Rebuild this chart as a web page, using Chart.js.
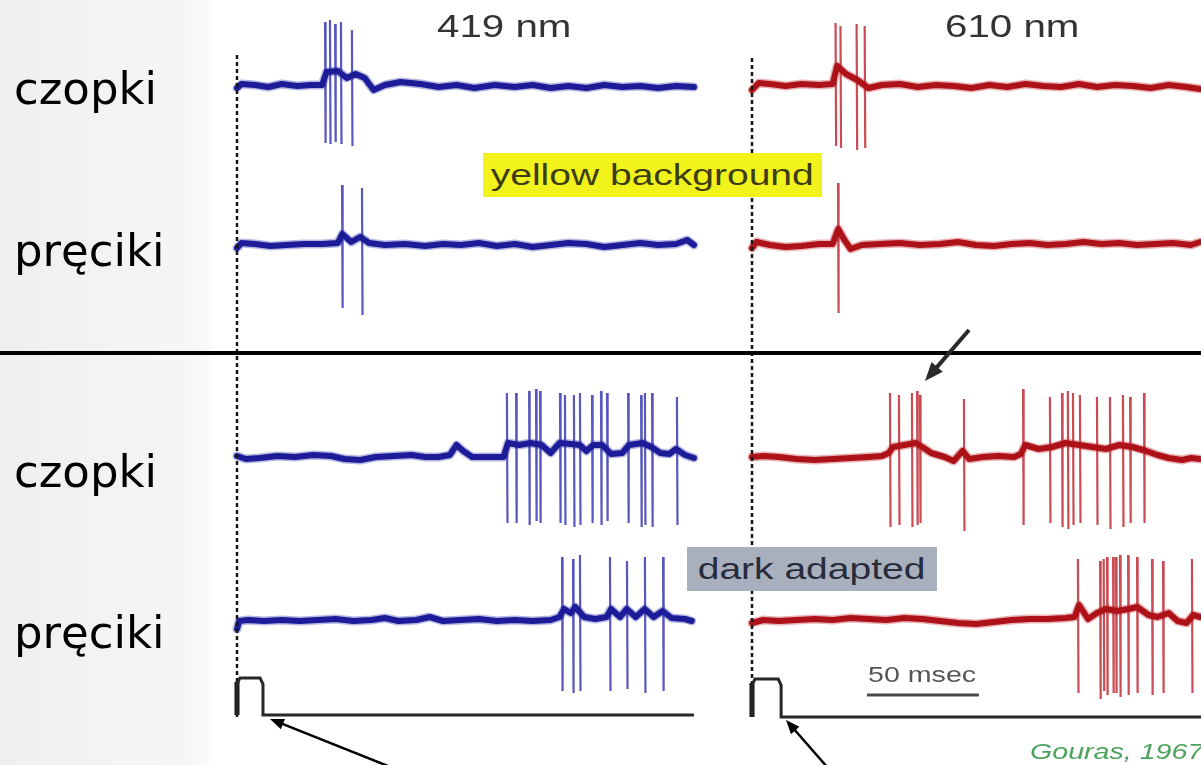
<!DOCTYPE html>
<html>
<head>
<meta charset="utf-8">
<script src="https://cdn.jsdelivr.net/npm/chart.js@4.4.0/dist/chart.umd.min.js"></script>
<style>
  html, body { margin: 0; padding: 0; }
  body {
    width: 1201px; height: 765px; overflow: hidden; position: relative;
    background: linear-gradient(to right, #efefef 0, #f6f6f6 190px, #fbfbfb 208px, #fff 214px);
    font-family: "Liberation Sans", Arial, sans-serif;
  }
  #chart { position: absolute; left: 0; top: 0; }
  .row { position: absolute; left: 14px; font-family: "DejaVu Sans", Verdana, sans-serif;
         font-size: 45px; line-height: 1; color: #000; }
  .fig { position: absolute; line-height: 1; white-space: nowrap;
         transform: scaleX(1.3); transform-origin: 0 0; }
  .tag { position: absolute; white-space: nowrap; text-align: center; }
</style>
</head>
<body>
<canvas id="chart" width="1201" height="765"></canvas>
<div id="labels"></div>
<script>
// ---- data (time in ms from stimulus onset, amplitudes in trace units) ----
const rowNames = ['czopki', 'pręciki', 'czopki', 'pręciki'];
const wavelengths = ['419 nm', '610 nm'];
const conditions = ['yellow background', 'dark adapted'];
const scaleBarMs = 50;
const source = 'Gouras, 1967';

// baseline of each trace: [t, deflection]
const blueConeYellow = [[0,-2],[2,2],[8,1],[14,-1],[20,2],[27,0],[33,1],[38,1],[40,14],[45,15],[49,8],[53,12],[57,8],[61,-4],[66,1],[73,4],[82,2],[90,-1],[98,1],[106,-2],[115,1],[124,-1],[132,1],[140,-2],[148,0],[156,-2],[164,1],[172,-1],[180,0],[188,-2],[196,0],[204,-1]];
const redConeYellow = [[0,-4],[3,3],[8,2],[15,0],[22,2],[30,1],[36,2],[38,20],[42,12],[47,6],[52,-2],[58,1],[66,2],[74,-1],[82,1],[90,0],[98,-2],[106,1],[114,-1],[122,2],[130,0],[138,-1],[146,2],[154,-1],[162,1],[170,0],[178,-2],[186,1],[194,-1],[200,-3]];
const blueRodYellow = [[0,-3],[2,2],[8,1],[15,-1],[22,0],[30,1],[38,1],[45,2],[47,11],[51,3],[55,8],[59,2],[66,0],[75,1],[84,-1],[92,1],[100,0],[108,2],[116,-1],[124,1],[132,-2],[140,0],[148,2],[156,1],[164,-2],[172,0],[180,2],[188,0],[196,1],[201,5],[204,0]];
const redRodYellow = [[0,-3],[2,3],[8,0],[15,-2],[22,-1],[30,1],[36,1],[38.5,16],[41,6],[44,-4],[49,0],[57,1],[66,2],[75,0],[84,1],[92,3],[100,0],[108,-1],[116,1],[124,2],[132,0],[140,1],[148,3],[156,1],[164,2],[172,0],[180,1],[188,2],[196,0],[200,3]];
const blueConeDark = [[0,1],[4,-2],[10,-1],[18,1],[26,0],[34,2],[42,1],[48,-2],[55,-3],[62,0],[70,1],[78,2],[84,0],[90,0],[95,2],[98,12],[101,6],[105,0],[112,0],[119,0],[121,14],[126,12],[131,14],[136,12],[140,4],[144,14],[149,13],[153,12],[156,6],[159,12],[163,12],[167,3],[172,4],[175,12],[181,14],[185,10],[189,4],[193,3],[196,8],[200,2],[204,-1]];
const redConeDark = [[0,0],[5,1],[12,0],[20,-2],[28,-3],[36,-2],[44,-1],[52,0],[58,1],[61,4],[63,10],[68,12],[73,14],[76,10],[80,4],[86,0],[90,-4],[94,6],[97,-2],[103,0],[110,1],[117,0],[120,3],[122,12],[128,8],[134,10],[140,14],[146,12],[152,10],[158,8],[164,12],[170,10],[176,6],[181,2],[186,-1],[192,-3],[196,-1],[200,-2]];
const blueRodDark = [[0,-8],[1,0],[5,1],[12,0],[20,1],[28,0],[36,1],[44,2],[52,0],[60,1],[66,3],[72,0],[80,1],[86,4],[92,0],[100,1],[108,2],[116,0],[124,1],[132,0],[140,1],[144,4],[146,12],[149,8],[151,14],[155,4],[160,2],[165,4],[167,12],[171,4],[174,12],[178,4],[182,12],[186,4],[190,10],[194,3],[200,2],[203,0]];
const redRodDark = [[0,-2],[5,1],[12,0],[20,1],[28,2],[36,1],[44,3],[52,2],[60,1],[68,3],[76,2],[84,0],[92,-2],[100,-3],[108,-1],[116,1],[124,2],[132,2],[140,3],[144,4],[146,16],[150,2],[154,8],[158,12],[163,10],[168,12],[172,14],[177,6],[181,4],[186,8],[190,0],[194,-2],[197,6],[200,4]];

// spikes: [t, peak up, trough down]
const blueConeYellowSpikes = [[39.3,64,57],[41.5,66,58],[43.8,62,56],[46.4,64,58],[51.3,56,60]];
const redConeYellowSpikes = [[37.3,63,60],[39.5,60,62],[46.7,62,64],[50.3,60,62]];
const blueRodYellowSpikes = [[46.9,60,63],[55.8,57,70]];
const redRodYellowSpikes = [[38.4,62,68]];
const blueConeDarkSpikes = [[120.5,64,66],[124.6,64,66],[130.4,66,68],[133.5,68,64],[135.3,66,66],[144.2,64,66],[146.4,62,68],[150.4,62,70],[153.1,64,68],[158.5,62,66],[162.5,66,68],[165.2,64,64],[174.6,64,66],[180.4,62,70],[182.1,64,68],[185.3,64,70],[196.4,60,68]];
const redConeDarkSpikes = [[61.6,64,70],[65.6,62,68],[71.4,64,70],[73.7,66,68],[75,62,66],[94.6,58,74],[121,68,68],[133,60,66],[138.4,64,70],[141,66,72],[143.3,64,68],[146.4,62,66],[154,60,68],[159.8,60,72],[165.6,62,70],[168.8,60,66],[175,64,66]];
const blueRodDarkSpikes = [[145.1,64,70],[150,62,72],[153.1,66,70],[166.5,64,70],[174.1,60,68],[182.1,64,72],[190.2,64,70]];
const redRodDarkSpikes = [[145.5,62,72],[155.4,60,78],[157,62,70],[158.5,64,74],[161.2,64,72],[162.5,64,72],[164.3,66,76],[167.9,66,74],[171.9,64,72],[178.6,62,74],[183.5,60,72],[196.4,62,72]];

// stimulus pulse: duration (ms), height
const stimDuration = [11.6, 13.0];
const stimHeight = [37, 38];
const traceEnd = [204, 200.5];

// ---- layout ----
const W = 1201, H = 765;
const PX_PER_MS = 2.24;
const X0 = [237, 752];             // pixel of t = 0 in each panel
const ROW_Y = [86, 245, 457, 621];  // baseline of each row
const STIM_Y = [715, 717];
const ZERO_LINE = [[55, 718], [58, 686]];
const COLORS = [
  { trace: '#1c1c98', spike: 'rgba(45,45,175,0.8)', halo: 'rgba(50,50,170,0.35)' },
  { trace: '#ae1219', spike: 'rgba(190,30,40,0.8)', halo: 'rgba(190,40,45,0.35)' }
];
const axisIds = ['xb', 'xr'];

const traces = [
  [blueConeYellow, blueConeYellowSpikes, 0, 0],
  [redConeYellow, redConeYellowSpikes, 1, 0],
  [blueRodYellow, blueRodYellowSpikes, 0, 1],
  [redRodYellow, redRodYellowSpikes, 1, 1],
  [blueConeDark, blueConeDarkSpikes, 0, 2],
  [redConeDark, redConeDarkSpikes, 1, 2],
  [blueRodDark, blueRodDarkSpikes, 0, 3],
  [redRodDark, redRodDarkSpikes, 1, 3]
];

const datasets = [];
traces.forEach(([base, spikes, panel, row]) => {
  const y0 = ROW_Y[row];
  const basePts = base.map(([t, v]) => ({ x: t, y: y0 - v }));
  const spikePts = [];
  spikes.forEach(([t, up, down]) => {
    spikePts.push({ x: t, y: y0 - up }, { x: t + 0.25, y: y0 + down }, { x: t, y: null });
  });
  datasets.push({ data: spikePts, xAxisID: axisIds[panel], borderColor: COLORS[panel].spike,
    borderWidth: 2.2, spanGaps: false, order: 3 });
  datasets.push({ data: basePts, xAxisID: axisIds[panel], borderColor: COLORS[panel].halo,
    borderWidth: 9, order: 2, borderJoinStyle: 'round', borderCapStyle: 'round' });
  datasets.push({ data: basePts, xAxisID: axisIds[panel], borderColor: COLORS[panel].trace,
    borderWidth: 6, order: 1, borderJoinStyle: 'round', borderCapStyle: 'round' });
});

// stimulus markers and time-zero lines
[0, 1].forEach(p => {
  const d = stimDuration[p], h = stimHeight[p], y = STIM_Y[p];
  datasets.push({ data: [
      { x: 0, y: y }, { x: 0, y: y - h + 6 }, { x: 1.3, y: y - h }, { x: d - 1.3, y: y - h },
      { x: d, y: y - h + 6 }, { x: d, y: y }, { x: traceEnd[p], y: y }
    ], xAxisID: axisIds[p], borderColor: '#262626', borderWidth: 3, order: 0 });
  datasets.push({ data: [{ x: 0, y: y }, { x: 0, y: y - h + 4 }], xAxisID: axisIds[p],
    borderColor: '#111', borderWidth: 5, order: 0 });
  datasets.push({ data: [{ x: 0, y: ZERO_LINE[p][0] }, { x: 0, y: ZERO_LINE[p][1] }], xAxisID: axisIds[p],
    borderColor: '#151515', borderWidth: 2.5, borderDash: [4, 3], order: 0 });
});

function arrow(ctx, x1, y1, x2, y2, w, head, color) {
  const a = Math.atan2(y2 - y1, x2 - x1);
  ctx.save();
  ctx.strokeStyle = color; ctx.fillStyle = color; ctx.lineWidth = w;
  ctx.beginPath(); ctx.moveTo(x1, y1);
  ctx.lineTo(x2 - Math.cos(a) * head * 0.8, y2 - Math.sin(a) * head * 0.8); ctx.stroke();
  ctx.beginPath(); ctx.moveTo(x2, y2);
  ctx.lineTo(x2 - head * Math.cos(a - 0.38), y2 - head * Math.sin(a - 0.38));
  ctx.lineTo(x2 - head * Math.cos(a + 0.38), y2 - head * Math.sin(a + 0.38));
  ctx.closePath(); ctx.fill();
  ctx.restore();
}

const decor = {
  id: 'decor',
  afterDatasetsDraw(chart) {
    const ctx = chart.ctx;
    ctx.save();
    // separator between conditions
    ctx.strokeStyle = '#000'; ctx.lineWidth = 4;
    ctx.beginPath(); ctx.moveTo(0, 353); ctx.lineTo(W, 353); ctx.stroke();
    // 50 ms scale bar
    const xr = chart.scales.xr;
    ctx.strokeStyle = '#4a4a4a'; ctx.lineWidth = 3;
    ctx.beginPath(); ctx.moveTo(xr.getPixelForValue(51.3), 695);
    ctx.lineTo(xr.getPixelForValue(51.3 + scaleBarMs), 695); ctx.stroke();
    ctx.restore();
    arrow(ctx, 393, 768, 270, 719, 2.5, 15, '#000');
    arrow(ctx, 828, 768, 786, 720, 2.5, 15, '#000');
    arrow(ctx, 969, 330, 925, 381, 4, 20, '#2a2a2a');
  }
};

new Chart(document.getElementById('chart'), {
  type: 'line',
  data: { datasets },
  options: {
    responsive: false,
    animation: false,
    events: [],
    layout: { padding: 0 },
    elements: { point: { radius: 0 }, line: { tension: 0 } },
    plugins: { legend: { display: false }, tooltip: { enabled: false } },
    scales: {
      xb: { type: 'linear', display: false, min: -X0[0] / PX_PER_MS, max: (W - X0[0]) / PX_PER_MS },
      xr: { type: 'linear', display: false, min: -X0[1] / PX_PER_MS, max: (W - X0[1]) / PX_PER_MS },
      y: { type: 'linear', display: false, min: 0, max: H, reverse: true }
    }
  },
  plugins: [decor]
});

// ---- text ----
const labels = document.getElementById('labels');
function add(cls, text, css) {
  const d = document.createElement('div');
  d.className = cls; d.textContent = text; d.style.cssText = css;
  labels.appendChild(d);
}
const rowTop = [66, 228, 449, 610];
rowNames.forEach((n, i) => add('row', n, 'top:' + rowTop[i] + 'px'));
add('fig', wavelengths[0], 'left:437px;top:11px;font-size:31px;color:#333');
add('fig', wavelengths[1], 'left:945px;top:11px;font-size:31px;color:#333');
add('tag', conditions[0], 'left:483px;top:153px;width:339px;height:44px;background:#f3f31c;');
add('tag', conditions[1], 'left:687px;top:547px;width:250px;height:44px;background:#a8b0be;');
add('fig', scaleBarMs + ' msec', 'left:868px;top:664px;font-size:22px;color:#555');
add('fig', source, 'left:1030px;top:741px;font-size:22px;font-style:italic;color:#4ba35c');
// text inside the condition boxes
[...labels.querySelectorAll('.tag')].forEach((t, i) => {
  const s = document.createElement('span');
  s.textContent = t.textContent; t.textContent = '';
  s.style.cssText = 'display:inline-block;font-size:30px;line-height:44px;transform:scaleX(1.3);color:' +
    (i === 0 ? '#3d3d14' : '#272b3b');
  t.appendChild(s);
});
</script>
</body>
</html>
